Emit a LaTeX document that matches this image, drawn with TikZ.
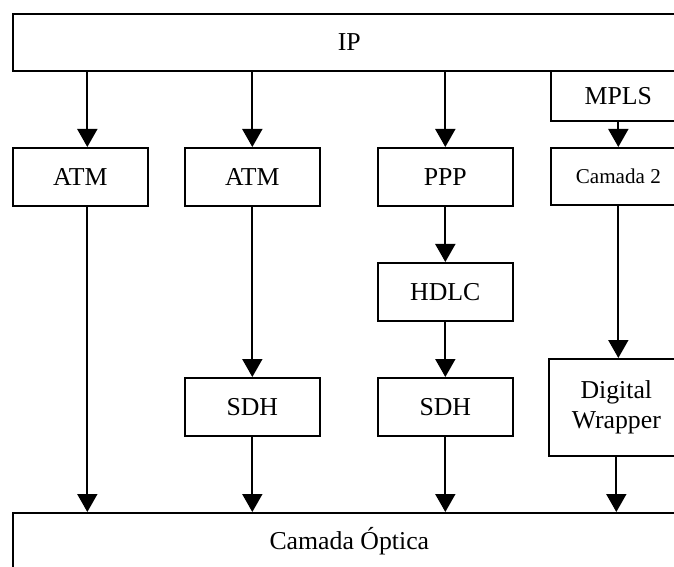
\documentclass[tikz,border=0pt]{standalone}
\usepackage{fontspec}
\setmainfont{Liberation Serif}
\usetikzlibrary{arrows.meta}

\begin{document}
\begin{tikzpicture}[
  x=0.03cm, y=-0.03cm,
  box/.style={rectangle, draw, line width=1.4pt, anchor=north west, inner sep=0pt,
              minimum width=4.05cm, minimum height=1.74cm,
              font=\fontsize{22}{25}\selectfont, align=center},
  wide/.style={box, minimum width=20.19cm},
  arr/.style={-{Triangle[length=0.54cm,width=0.6cm]}, line width=1.5pt},
]
  \useasboundingbox (0,0) rectangle (674,567);
  \clip (0,0) rectangle (674,567);
  % top and bottom layers
  \node[wide, minimum height=1.71cm](ip) at (12,13) {IP};
  \node[wide, minimum height=1.68cm](optica) at (12,512) {Camada Óptica};
  % columns
  \node[box](atmA) at (12,147) {ATM};
  \node[box](atmB) at (184,147) {ATM}; \node[box](sdhB) at (184,377) {SDH};
  \node[box](ppp) at (377,147) {PPP}; \node[box](hdlc) at (377,262) {HDLC};
  \node[box](sdhC) at (377,377) {SDH};
  \node[box, minimum height=1.5cm](mpls) at (550,70) {MPLS};
  \node[box, minimum height=1.71cm, font=\fontsize{18}{21}\selectfont](camB) at (550,147) {Camada 2};
  \node[box, minimum height=2.91cm](dw) at (548,358) {Digital\\Wrapper};
  % arrows
  \draw[arr]([xshift=0.21cm]ip.south -| atmA.north)--([xshift=0.21cm]atmA.north);
  \draw[arr]([xshift=0.21cm]atmA.south)--([xshift=0.21cm]atmA.south |- optica.north);
  \draw[arr](ip.south -| atmB.north)--(atmB); \draw[arr](atmB)--(sdhB);
  \draw[arr](sdhB.south)--(sdhB.south |- optica.north);
  \draw[arr](ip.south -| ppp.north)--(ppp); \draw[arr](ppp)--(hdlc); \draw[arr](hdlc)--(sdhC);
  \draw[arr](sdhC.south)--(sdhC.south |- optica.north);
  \draw[arr](mpls)--(camB); \draw[arr](camB.south)--(camB.south |- dw.north);
  \draw[arr](dw.south)--(dw.south |- optica.north);
\end{tikzpicture}
\end{document}
